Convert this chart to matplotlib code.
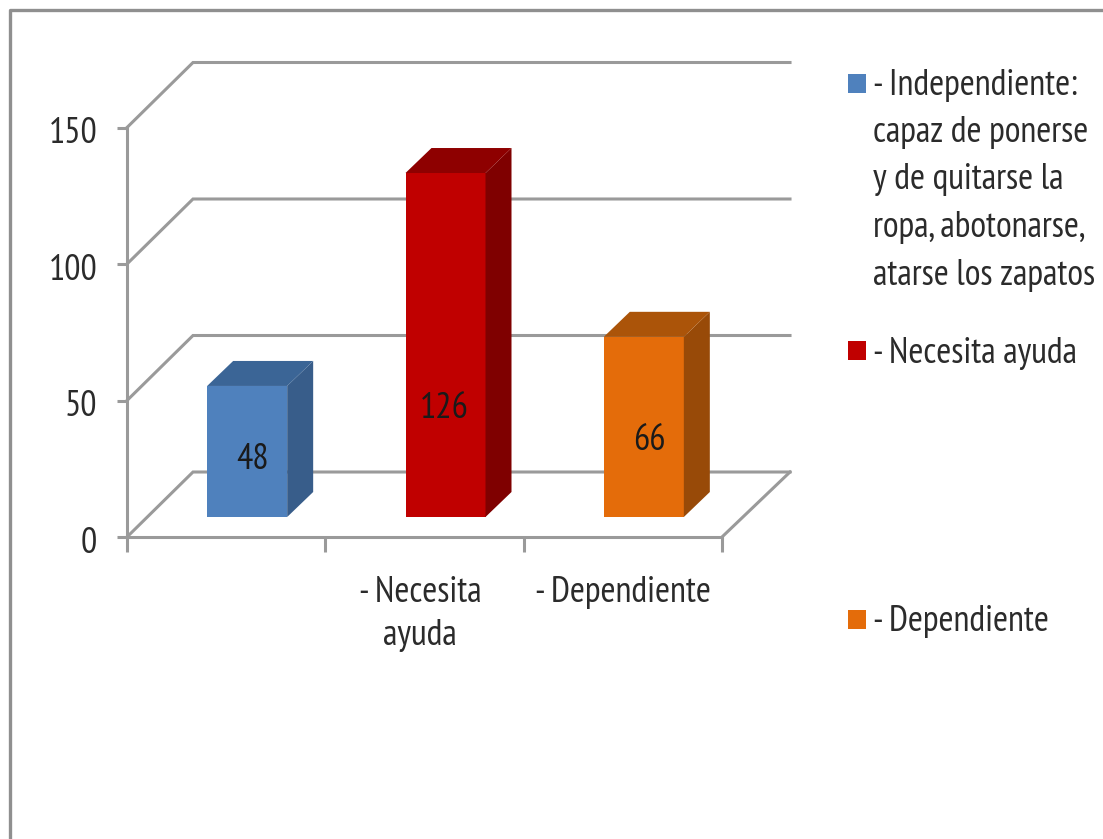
import matplotlib
matplotlib.use("Agg")
import matplotlib.pyplot as plt
from matplotlib.patches import Polygon, Rectangle
from matplotlib.transforms import ScaledTranslation

# chart data
values = [48, 126, 66]
categories = ["", "- Necesita\nayuda", "- Dependiente"]
yticks = [0, 50, 100, 150]
legend_labels = [
    ["- Independiente:", "capaz de ponerse", "y de quitarse la", "ropa, abotonarse,", "atarse los zapatos"],
    ["- Necesita ayuda"],
    ["- Dependiente"],
]
front_colors = ["#4F81BD", "#C00000", "#E46C0A"]
side_colors = ["#385D8A", "#7F0000", "#984A08"]
top_colors = ["#3B6596", "#8E0000", "#AB5409"]
# data labels sit off the bar centre, offsets in points
label_shift = [(3.5, -6), (-1, -46), (4, -10)]

W, H = 1103, 839
plt.rcParams["font.family"] = ["PT Sans Narrow", "Liberation Sans", "DejaVu Sans"]
GRAY = "#9a9a9a"
TEXT = "#2b2b2b"
FS = 26

fig = plt.figure(figsize=(W / 100, H / 100), dpi=100)
# x axis runs 127..722 px, y axis 537..127.5 px
ax = fig.add_axes([127 / W, (H - 537) / H, 595 / W, 409.5 / H])
ax.set_xlim(0, 3)
ax.set_ylim(0, 150)
ax.patch.set_visible(False)

# oblique offsets in data units
px = 3 / 595
py = 150 / 409.5
wall_dx, wall_dy = 66 * px, 65 * py
floor_dx, floor_dy = 21 * px, 20 * py
bar_dx, bar_dy = 26 * px, 25 * py
bar_w = 80 * px

# back wall gridlines and floor
for v in yticks:
    ax.plot([0, wall_dx, 3 + wall_dx + 2 * px], [v, v + wall_dy, v + wall_dy],
            color=GRAY, lw=2.2, clip_on=False, zorder=1, solid_joinstyle="miter")
ax.plot([3, 3 + wall_dx + 2 * px], [0, wall_dy], color=GRAY, lw=2.2, clip_on=False, zorder=1)

# bars
for i, v in enumerate(values):
    x0 = i + 0.5 + floor_dx - bar_w / 2
    x1 = x0 + bar_w
    b = floor_dy
    ax.bar(x0, v, width=bar_w, bottom=b, align="edge", color=front_colors[i], zorder=3, clip_on=False)
    ax.add_patch(Polygon([(x1, b), (x1 + bar_dx, b + bar_dy), (x1 + bar_dx, b + v + bar_dy), (x1, b + v)],
                         closed=True, fc=side_colors[i], ec="none", zorder=3, clip_on=False))
    ax.add_patch(Polygon([(x0, b + v), (x0 + bar_dx, b + v + bar_dy), (x1 + bar_dx, b + v + bar_dy), (x1, b + v)],
                         closed=True, fc=top_colors[i], ec="none", zorder=3, clip_on=False))
    ax.annotate(str(v), ((x0 + x1) / 2, b + v / 2), xytext=label_shift[i], textcoords="offset points",
                ha="center", va="center", fontsize=FS, color="#1a1a1a", zorder=4)

# axes
for s in ["top", "right"]:
    ax.spines[s].set_visible(False)
for s in ["left", "bottom"]:
    ax.spines[s].set_color(GRAY)
    ax.spines[s].set_linewidth(2.2)
ax.set_yticks(yticks)
ax.set_xticks([0, 1, 2, 3])
ax.set_xticklabels([])
ax.tick_params(axis="y", length=7.5, width=2.2, color=GRAY, labelsize=FS, labelcolor=TEXT, pad=14)
ax.tick_params(axis="x", length=10.5, width=2.2, color=GRAY)
for lab in ax.get_yticklabels():
    lab.set_transform(lab.get_transform() + ScaledTranslation(0, -2 / 72, fig.dpi_scale_trans))
for i, c in enumerate(categories):
    ax.annotate(c, (i + 0.5, 0), xytext=(-3 if i == 1 else 0, -28), textcoords="offset points", ha="center", va="top",
                fontsize=FS, color=TEXT, linespacing=1.39, annotation_clip=False)

# outer frame, open on the right and at the bottom
fig.add_artist(plt.Line2D([10 / W, 10 / W, 1], [0, 1 - 10 / H, 1 - 10 / H], color="#8f8f8f", lw=2.4))

# legend
swatch_y = [83, 350, 619]
legend_y = [85, 353, 621]
for sy, ly, lines, c in zip(swatch_y, legend_y, legend_labels, front_colors):
    fig.add_artist(Rectangle((848 / W, 1 - (sy + 9.5) / H), 18 / W, 19 / H, fc=c, ec="none",
                             transform=fig.transFigure))
    for j, line in enumerate(lines):
        fig.text(873 / W, 1 - (ly + j * 47.5) / H, line, ha="left", va="center", fontsize=FS, color=TEXT)

fig.savefig("out.png", dpi=100)
